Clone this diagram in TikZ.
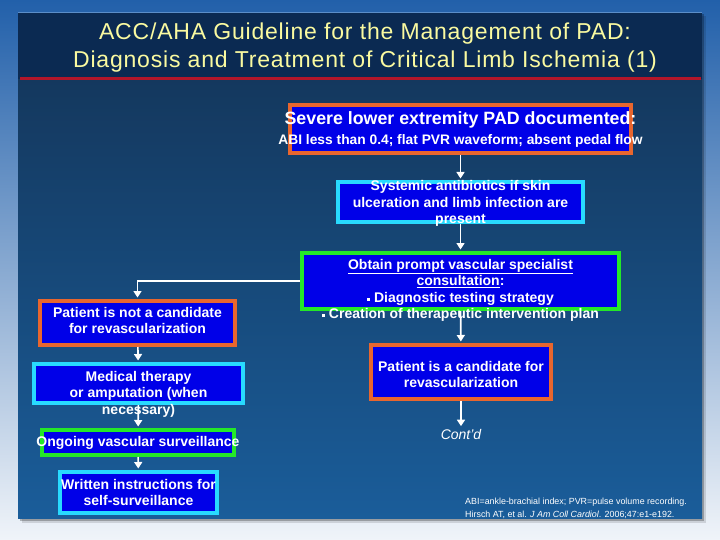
\documentclass[tikz,border=0pt]{standalone}
\usepackage{fontspec}
\setmainfont{Liberation Sans}
\newfontfamily\titlefont[LetterSpace=3.5]{Liberation Sans}
\usetikzlibrary{arrows.meta}

\definecolor{boxblue}{RGB}{0,0,232}
\definecolor{orangeline}{RGB}{232,102,46}
\definecolor{cyanline}{RGB}{40,218,255}
\definecolor{greenline}{RGB}{36,232,40}
\definecolor{titleyellow}{RGB}{250,250,160}
\definecolor{navy}{RGB}{11,42,82}
\definecolor{redline}{RGB}{178,22,42}
\definecolor{paneltop}{RGB}{20,56,94}
\definecolor{panelbottom}{RGB}{26,93,154}
\definecolor{outertop}{RGB}{34,96,170}
\definecolor{outermid}{RGB}{92,142,200}
\definecolor{outerbottom}{RGB}{240,244,249}

\begin{document}
\begin{tikzpicture}[x=1pt, y=-1pt, >={Triangle[length=6.5pt,width=8pt]},
  box/.style={draw, line width=4pt, fill=boxblue, inner sep=0pt},
  orangebox/.style={box, draw=orangeline},
  cyanbox/.style={box, draw=cyanline},
  greenbox/.style={box, draw=greenline},
  boxtext/.style={text=white, align=center, inner sep=0pt, yshift=-1.5pt,
    font=\bfseries\fontsize{14}{16.5}\selectfont},
  flow/.style={->, white, line width=1.6pt, shorten >=1.5pt}]
  \useasboundingbox (0,0) rectangle (720,540);
  % background and panel
  \shade[top color=outertop, middle color=outermid, bottom color=outerbottom] (0,0) rectangle (720,540);
  \fill[black, opacity=0.12] (22,16) rectangle (706,523);
  \fill[black, opacity=0.25] (20,14) rectangle (704,521);
  \shade[top color=paneltop, bottom color=panelbottom] (18,79) rectangle (702,518);
  \fill[navy] (18,12) rectangle (702,79);
  \draw[outermid, line width=1.5pt] (18,12.75) -- (702,12.75);
  \draw[redline, line width=3pt] (20,79) -- (701,79);
  \node[text=titleyellow, align=center, font=\titlefont\fontsize{23}{28}\selectfont] (title) at (365,47.5)
    {ACC/AHA Guideline for the Management of PAD:\\Diagnosis and Treatment of Critical Limb Ischemia (1)};

  % right column
  \node[orangebox, minimum width=341, minimum height=48] (severe) at (460.5,129) {};
  \node[boxtext, font=\bfseries\fontsize{17.8}{20}\selectfont] (severe-t) at (460.5,118) {Severe lower extremity PAD documented:};
  \node[boxtext, font=\bfseries\fontsize{13.8}{16}\selectfont] (severe-s) at (460.5,139) {ABI less than 0.4; flat PVR waveform; absent pedal flow};
  \node[cyanbox, minimum width=245, minimum height=40] (antibio) at (460.5,202) {};
  \node[boxtext] (antibio-t) at (460.5,202) {Systemic antibiotics if skin\\ulceration and limb infection are\\present};
  \node[greenbox, minimum width=317, minimum height=56] (consult) at (460.5,281) {};
  \node[boxtext] (consult-t) at (460.5,289)
    {\underline{Obtain prompt vascular specialist}\\\underline{consultation}:\\
     \raisebox{0.25ex}{\rule{3pt}{3pt}} Diagnostic testing strategy\\
     \raisebox{0.25ex}{\rule{3pt}{3pt}} Creation of therapeutic intervention plan};
  \node[orangebox, minimum width=180, minimum height=54] (cand) at (461,372) {};
  \node[boxtext] (cand-t) at (461,373) {Patient is a candidate for\\revascularization};
  \node[text=white, inner sep=1pt, font=\itshape\fontsize{14}{16}\selectfont] (contd) at (461,434) {Cont'd};

  % left column
  \node[orangebox, minimum width=195, minimum height=44] (notcand) at (137.5,323) {};
  \node[boxtext] (notcand-t) at (137.5,319) {Patient is not a candidate\\for revascularization};
  \node[cyanbox, minimum width=209, minimum height=39] (medical) at (138.5,383.5) {};
  \node[boxtext] (medical-t) at (138.5,392.5) {Medical therapy\\or amputation (when\\necessary)};
  \node[greenbox, minimum width=192, minimum height=25] (ongoing) at (138,442.5) {};
  \node[boxtext] (ongoing-t) at (138,441) {Ongoing vascular surveillance};
  \node[cyanbox, minimum width=157, minimum height=41] (written) at (138.5,492.5) {};
  \node[boxtext] (written-t) at (138.5,491) {Written instructions for\\self-surveillance};

  % connectors
  \draw[flow] (severe) -- (antibio);
  \draw[flow] (antibio) -- (consult);
  \draw[flow] (consult) -- (cand);
  \draw[flow] (cand) -- (contd);
  \draw[flow] (consult.west) -| (notcand.north);
  \draw[flow] (notcand) -- (medical);
  \draw[flow] (medical) -- (ongoing);
  \draw[flow] (ongoing) -- (written);

  % footnote
  \node[text=white, align=left, anchor=west, inner sep=0pt, font=\fontsize{8.9}{13}\selectfont] (note) at (465,508.5)
    {ABI=ankle-brachial index; PVR=pulse volume recording.\\
     Hirsch AT, et al. \textit{J Am Coll Cardiol}. 2006;47:e1-e192.};
\end{tikzpicture}
\end{document}
